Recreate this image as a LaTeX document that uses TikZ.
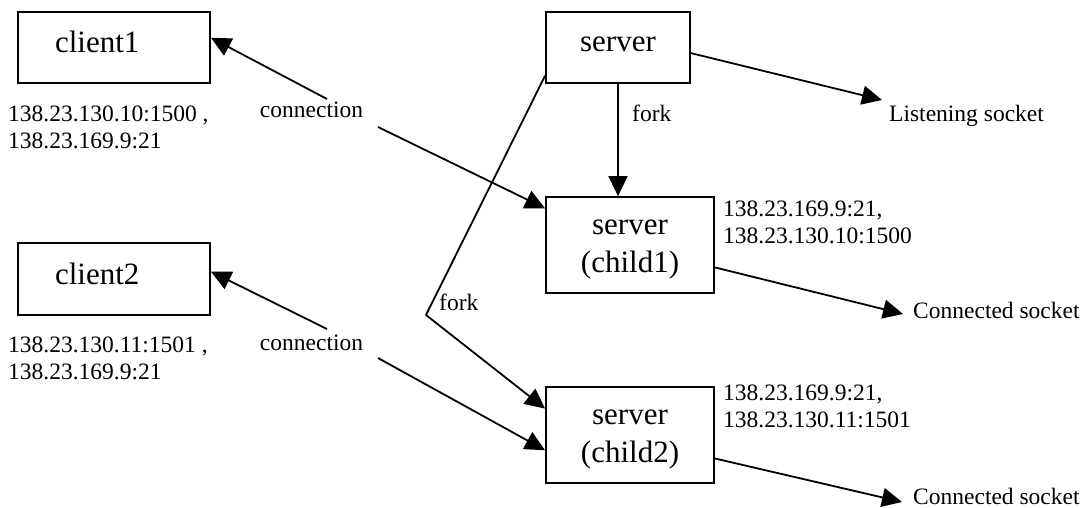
\documentclass[tikz,border=0pt]{standalone}
\usepackage{fontspec}
\setmainfont{Liberation Serif}
\usetikzlibrary{arrows.meta,calc}
\begin{document}
\begin{tikzpicture}[x=1pt,y=-1pt,
  box/.style={draw, line width=1.8pt, inner sep=0pt},
  big/.style={font=\fontsize{31}{38}\selectfont},
  small/.style={font=\fontsize{23.5}{27}\selectfont, inner sep=0pt},
  arr/.style={line width=1.8pt, -{Triangle[length=20pt,width=19pt]}}]
\useasboundingbox (0,0) rectangle (1084,508);

% boxes
\node[box,big,minimum height=71pt,text width=118pt,inner xsep=37pt,align=left,text depth=11pt] (client1) at (114,47.5) {client1};
\node[box,big,minimum height=72pt,text width=118pt,inner xsep=37pt,align=left,text depth=11pt] (client2) at (114,279) {client2};
\node[box,big,minimum width=144pt,minimum height=71pt,text depth=6pt] (server) at (618,47.5) {server};
\node[box,big,minimum width=168pt,minimum height=96pt,align=center,text height=61pt] (child1) at (630,245) {server\\(child1)};
\node[box,big,minimum width=168pt,minimum height=96pt,align=center,text height=61pt] (child2) at (630,435) {server\\(child2)};

% texts
\node[small,anchor=west,align=left] (addr1) at (8,127.25) {138.23.130.10:1500 ,\\138.23.169.9:21};
\node[small,anchor=west,align=left] (addr2) at (8,358) {138.23.130.11:1501 ,\\138.23.169.9:21};
\node[small,anchor=west,align=left] (addr3) at (723,222.5) {138.23.169.9:21,\\138.23.130.10:1500};
\node[small,anchor=west,align=left] (addr4) at (723,406) {138.23.169.9:21,\\138.23.130.11:1501};
\node[small,anchor=base] (conn1) at (311.5,118) {connection};
\node[small,anchor=base] (conn2) at (311.5,350) {connection};
\node[small,anchor=base west] (fork1) at (632,122) {fork};
\node[small,anchor=base west] (fork2) at (439,310) {fork};
\node[small,anchor=base west] (listen) at (889,122) {Listening socket};
\node[small,anchor=base west] (sock1) at (913,318) {Connected socket};
\node[small,anchor=base west] (sock2) at (913,504) {Connected socket};

% free ends
\coordinate (c1a) at (327,99);
\coordinate (c1b) at (378,127);
\coordinate (c2a) at (327,329);
\coordinate (c2b) at (378,358);
\coordinate (bend) at (426,315);
\coordinate (lt) at (882,100);
\coordinate (s1t) at (903,314);
\coordinate (s2t) at (902,502);

% connectors
\draw[arr] (c1a) -- ($(client1.north east)!0.366!(client1.south east)$);
\draw[arr] (c1b) -- ($(child1.north west)!0.125!(child1.south west)$);
\draw[arr] (c2a) -- ($(client2.north east)!0.40!(client2.south east)$);
\draw[arr] (c2b) -- ($(child2.north west)!0.656!(child2.south west)$);
\draw[arr] (server.south) -- (server.south |- child1.north);
\draw[arr] ($(server.north west)!0.887!(server.south west)$) -- (bend) -- ($(child2.north west)!0.23!(child2.south west)$);
\draw[arr] ($(server.north east)!0.577!(server.south east)$) -- (lt);
\draw[arr] ($(child1.north east)!0.729!(child1.south east)$) -- (s1t);
\draw[arr] ($(child2.north east)!0.74!(child2.south east)$) -- (s2t);
\end{tikzpicture}
\end{document}
